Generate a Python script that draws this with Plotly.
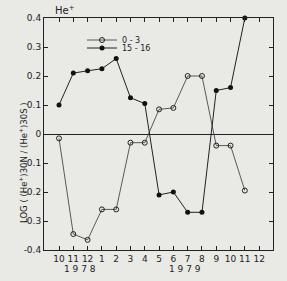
import plotly.graph_objects as go

months = ["10", "11", "12", "1", "2", "3", "4", "5", "6", "7", "8", "9", "10", "11", "12"]
x_idx = list(range(14))
open_vals = [-0.015, -0.345, -0.365, -0.26, -0.26, -0.03, -0.03, 0.085, 0.09, 0.2, 0.2, -0.04, -0.04, -0.195]
solid_vals = [0.1, 0.21, 0.218, 0.225, 0.26, 0.125, 0.105, -0.21, -0.2, -0.27, -0.27, 0.15, 0.16, 0.4]
yticks = [0.4, 0.3, 0.2, 0.1, 0, -0.1, -0.2, -0.3, -0.4]
ytick_text = ["0.4", "0.3", "0.2", "0.1", "0", "-0.1", "-0.2", "-0.3", "-0.4"]

W, H = 287, 281
L, R, T, B = 44, 14, 18, 31
PW, PH = W - L - R, H - T - B

def px2paper(px, py):
    return (px - L) / PW, (H - B - py) / PH

font = dict(family="DejaVu Sans", size=9, color="#222")

fig = go.Figure()
fig.add_trace(go.Scatter(
    x=x_idx, y=open_vals, mode="lines+markers", name="0 - 3",
    line=dict(color="#333", width=0.8),
    marker=dict(symbol="circle-open", size=5, color="#222", line=dict(width=1)),
    cliponaxis=False, legend="legend",
))
fig.add_trace(go.Scatter(
    x=x_idx, y=solid_vals, mode="lines+markers", name="15 - 16",
    line=dict(color="#222", width=1),
    marker=dict(symbol="circle", size=5, color="#111"),
    cliponaxis=False, legend="legend2",
))

lx, ly1 = px2paper(82, 40)
_, ly2 = px2paper(82, 48)
legfont = dict(family="DejaVu Sans", size=8, color="#222")
fig.update_layout(
    width=W, height=H,
    margin=dict(l=L, r=R, t=T, b=B),
    paper_bgcolor="#e9e9e5", plot_bgcolor="#e9e9e5",
    showlegend=True,
    legend=dict(x=lx, y=ly1, xanchor="left", yanchor="middle", bgcolor="rgba(0,0,0,0)",
                font=legfont, itemwidth=30),
    legend2=dict(x=lx, y=ly2, xanchor="left", yanchor="middle", bgcolor="rgba(0,0,0,0)",
                 font=legfont, itemwidth=30),
    font=font,
)
fig.update_xaxes(
    range=[-1.05, 14.97], tickvals=list(range(15)), ticktext=months,
    showgrid=False, zeroline=False, showline=True, linecolor="#222", linewidth=1,
    mirror="ticks", ticks="inside", ticklen=4, tickcolor="#222",
    tickfont=dict(family="DejaVu Sans", size=9, color="#222"),
)
fig.update_yaxes(
    range=[-0.4, 0.4], tickvals=yticks, ticktext=ytick_text,
    showgrid=False, zeroline=True, zerolinecolor="#222", zerolinewidth=1,
    showline=True, linecolor="#222", linewidth=1,
    mirror="ticks", ticks="inside", ticklen=4, tickcolor="#222",
    tickfont=dict(family="DejaVu Sans", size=9, color="#222"),
)
_, yy = px2paper(0, 262)
fig.add_annotation(x=1.5, y=yy, xref="x", yref="paper", text="1 9 7 8", showarrow=False,
                   yanchor="top", font=dict(family="DejaVu Sans", size=9, color="#222"))
fig.add_annotation(x=8.8, y=yy, xref="x", yref="paper", text="1 9 7 9", showarrow=False,
                   yanchor="top", font=dict(family="DejaVu Sans", size=9, color="#222"))
fig.add_annotation(x=0.04, y=1.0, xref="paper", yref="paper", text="He<sup>+</sup>", showarrow=False,
                   xanchor="left", yanchor="bottom",
                   font=dict(family="DejaVu Sans", size=10, color="#222"))
tx, ty = px2paper(15, 163)
fig.add_annotation(x=tx, y=ty, xref="paper", yref="paper",
                   text="LOG ( (He<sup>+</sup>)30N / (He<sup>+</sup>)30S )",
                   showarrow=False, textangle=-90,
                   font=dict(family="DejaVu Sans", size=8.5, color="#222"))
fig.write_html("out.html")
